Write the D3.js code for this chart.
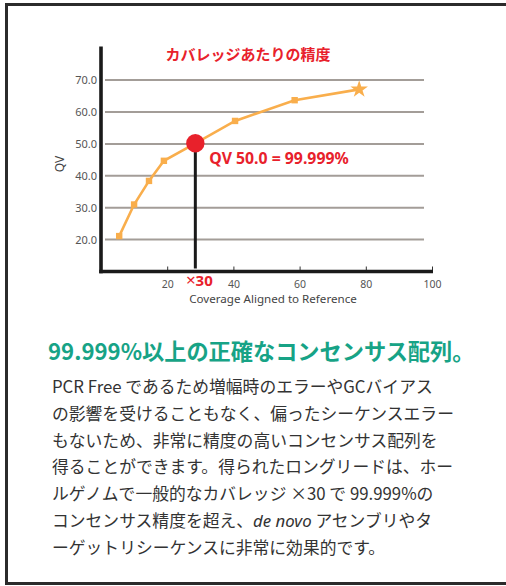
<!DOCTYPE html>
<html>
<head>
<meta charset="utf-8">
<script src="https://cdn.jsdelivr.net/npm/d3@7"></script>
<style>
  html, body { margin: 0; padding: 0; background: #fff; }
  svg { display: block; }
</style>
</head>
<body>
<svg id="chart" width="506" height="586"></svg>
<script>
// ---- data ----
const coverage = [5.5, 10, 14.5, 19, 28.5, 40.5, 58.5, 78];
const qvValues = [21.1, 31.0, 38.4, 44.7, 50.2, 57.2, 63.7, 67.1];
const markerType = ["square", "square", "square", "square", "highlight", "square", "square", "star"];
const yTicks = [20, 30, 40, 50, 60, 70];
const xTicks = [20, 40, 60, 80, 100];
const highlightIndex = 4;
const chartTitle = "カバレッジあたりの精度";
const yTitle = "QV";
const xTitle = "Coverage Aligned to Reference";
const highlightLabel = "QV 50.0 = 99.999%";
const highlightTickLabel = "×30";
const heading = "99.999%以上の正確なコンセンサス配列。";
const bodyLines = [
  [{t: "PCR Free であるため増幅時のエラーやGCバイアス"}],
  [{t: "の影響を受けることもなく、偏ったシーケンスエラー"}],
  [{t: "もないため、非常に精度の高いコンセンサス配列を"}],
  [{t: "得ることができます。得られたロングリードは、ホー"}],
  [{t: "ルゲノムで一般的なカバレッジ ×30 で 99.999%の"}],
  [{t: "コンセンサス精度を超え、"}, {t: "de novo", i: true}, {t: " アセンブリやタ"}],
  [{t: "ーゲットリシーケンスに非常に効果的です。"}]
];

// ---- drawing ----
const svg = d3.select("#chart");
const red = "#e8212b", orange = "#f9ae4c", grid = "#a39d98", green = "#17a386";
const latin = "'Noto Sans', 'Open Sans', sans-serif";
const cjk = "'Noto Sans CJK JP', 'Noto Sans', sans-serif";

// frame
svg.append("rect")
  .attr("x", 6.5).attr("y", 4.5).attr("width", 520).attr("height", 579)
  .attr("fill", "none").attr("stroke", "#2b2b2b").attr("stroke-width", 3);

const x = d3.scaleLinear().domain([0, 100]).range([101, 432]);
const y = d3.scaleLinear().domain([10, 80]).range([271.5, 48.2]);

// gridlines
svg.append("g").selectAll("line").data(yTicks).join("line")
  .attr("x1", 105).attr("x2", 424)
  .attr("y1", d => y(d)).attr("y2", d => y(d))
  .attr("stroke", grid).attr("stroke-width", 2);

// y axis labels
const yAxis = svg.append("g").attr("transform", `translate(${x(0) - 3},0)`)
  .call(d3.axisLeft(y).tickValues(yTicks).tickFormat(d3.format(".1f")).tickSize(0).tickPadding(1));
yAxis.select(".domain").remove();
yAxis.selectAll("text").attr("font-family", latin).attr("font-size", 11).attr("fill", "#555");

// x axis ticks + labels
const xAxis = svg.append("g").attr("transform", `translate(0,${y(10)})`)
  .call(d3.axisBottom(x).tickValues(xTicks).tickSizeInner(-5).tickSizeOuter(0).tickPadding(12));
xAxis.select(".domain").remove();
xAxis.selectAll(".tick line").attr("stroke", "#333").attr("stroke-width", 1);
xAxis.selectAll("text").attr("font-family", latin).attr("font-size", 10.5).attr("fill", "#555")
  .attr("y", 9);

// axis lines (thick)
svg.append("line").attr("x1", x(0)).attr("x2", x(0)).attr("y1", 46.5).attr("y2", y(10) + 1.8)
  .attr("stroke", "#1a1a1a").attr("stroke-width", 3.6);
svg.append("line").attr("x1", x(0) - 1.8).attr("x2", x(100) + 1).attr("y1", y(10)).attr("y2", y(10))
  .attr("stroke", "#1a1a1a").attr("stroke-width", 3.6);

// highlight vertical line
svg.append("line")
  .attr("x1", x(coverage[highlightIndex])).attr("x2", x(coverage[highlightIndex]))
  .attr("y1", y(qvValues[highlightIndex])).attr("y2", y(10) - 3)
  .attr("stroke", "#1a1a1a").attr("stroke-width", 3);

// line
const pts = coverage.map((c, i) => [c, qvValues[i]]);
svg.append("path").datum(pts)
  .attr("d", d3.line().x(d => x(d[0])).y(d => y(d[1])))
  .attr("fill", "none").attr("stroke", orange).attr("stroke-width", 2.6);

// markers
pts.forEach((p, i) => {
  const t = markerType[i];
  if (t === "square") {
    svg.append("rect").attr("x", x(p[0]) - 3.2).attr("y", y(p[1]) - 3.2)
      .attr("width", 6.4).attr("height", 6.4).attr("fill", orange);
  } else if (t === "star") {
    svg.append("path").attr("d", d3.symbol(d3.symbolStar, 95)())
      .attr("transform", `translate(${x(p[0])},${y(p[1])})`).attr("fill", orange);
  } else {
    svg.append("circle").attr("cx", x(p[0])).attr("cy", y(p[1])).attr("r", 9.2).attr("fill", red);
  }
});

// highlight labels
svg.append("text").attr("x", x(coverage[highlightIndex]) + 14).attr("y", 164)
  .attr("font-family", latin).attr("font-weight", 700).attr("font-size", 15.8)
  .attr("fill", red).text(highlightLabel);
const xl = svg.append("text").attr("x", x(coverage[highlightIndex]) + 4).attr("y", 286)
  .attr("text-anchor", "middle")
  .attr("font-family", latin).attr("font-weight", 700).attr("font-size", 15)
  .attr("fill", red);
xl.append("tspan").attr("font-weight", 400).attr("font-size", 17).text(highlightTickLabel.slice(0, 1));
xl.append("tspan").text(highlightTickLabel.slice(1));

// titles
svg.append("text").attr("x", 248).attr("y", 60).attr("text-anchor", "middle")
  .attr("font-family", cjk).attr("font-weight", 700).attr("font-size", 15)
  .attr("fill", red).text(chartTitle);
svg.append("text").attr("transform", "translate(64,164) rotate(-90)").attr("text-anchor", "middle")
  .attr("font-family", latin).attr("font-size", 12).attr("fill", "#444").text(yTitle);
svg.append("text").attr("x", 273).attr("y", 303).attr("text-anchor", "middle")
  .attr("font-family", latin).attr("font-size", 11.6).attr("fill", "#444").text(xTitle);

// heading
svg.append("text").attr("x", 48).attr("y", 360)
  .attr("font-family", cjk).attr("font-weight", 700).attr("font-size", 22.2)
  .attr("fill", green).text(heading);

// body
const body = svg.append("g");
bodyLines.forEach((segs, i) => {
  const t = body.append("text").attr("x", 52).attr("y", 393 + i * 26.8)
    .attr("font-family", cjk).attr("font-size", 16.8).attr("fill", "#333");
  segs.forEach(s => {
    const ts = t.append("tspan").text(s.t);
    if (s.i) ts.attr("font-style", "italic").attr("font-family", latin);
  });
});
</script>
</body>
</html>
